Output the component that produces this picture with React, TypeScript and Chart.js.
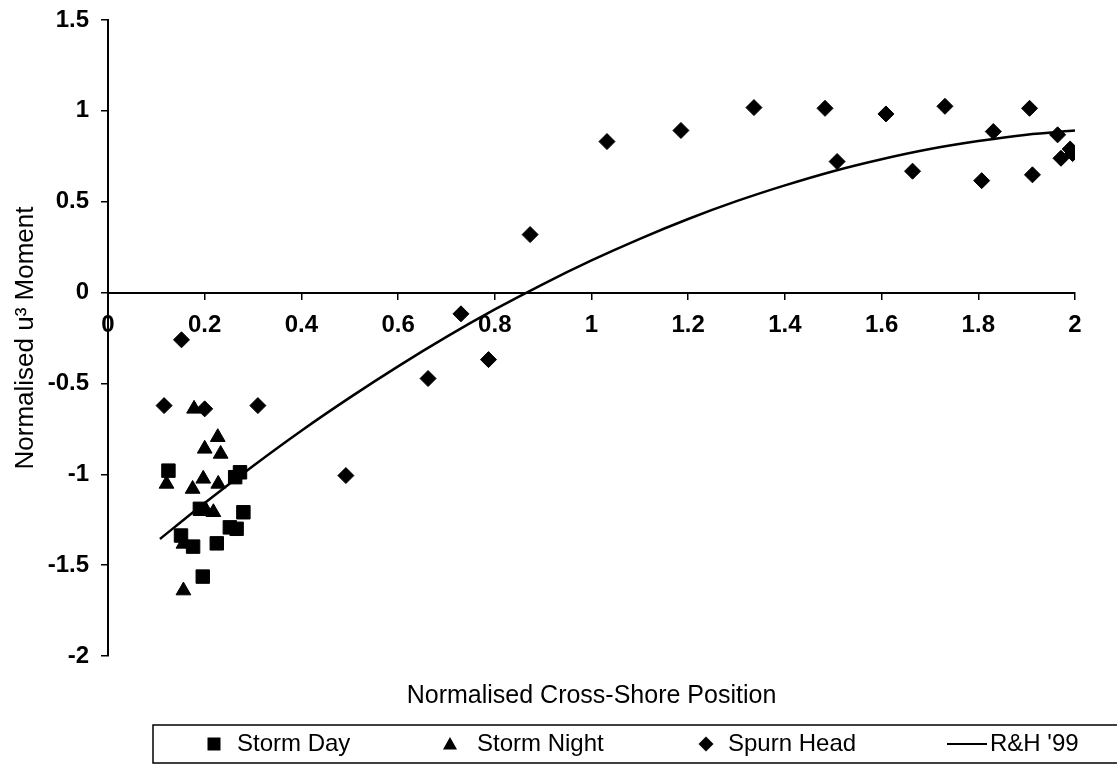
import React, { useEffect, useRef } from "react";
import { Chart, registerables } from "chart.js";

Chart.register(...registerables);

// ---- Data ----
const stormDayX = [0.125, 0.273, 0.263, 0.280, 0.190, 0.252, 0.266, 0.151, 0.176, 0.225, 0.196];
const stormDayY = [-0.98, -0.989, -1.016, -1.209, -1.19, -1.292, -1.30, -1.337, -1.398, -1.380, -1.563];

const stormNightX = [0.178, 0.227, 0.200, 0.233, 0.197, 0.121, 0.175, 0.228, 0.218, 0.203, 0.156, 0.156];
const stormNightY = [-0.640, -0.796, -0.860, -0.888, -1.025, -1.053, -1.081, -1.053, -1.209, -1.200, -1.383, -1.64];

const spurnHeadX = [0.152, 0.116, 0.200, 0.310, 0.492, 0.662, 0.730, 0.787, 0.873, 1.032, 1.185, 1.336, 1.483, 1.508, 1.609, 1.664, 1.731, 1.807, 1.831, 1.906, 1.912, 1.964, 1.971, 1.990, 1.995];
const spurnHeadY = [-0.26, -0.622, -0.640, -0.622, -1.007, -0.473, -0.117, -0.369, 0.319, 0.831, 0.892, 1.018, 1.014, 0.721, 0.983, 0.668, 1.025, 0.616, 0.886, 1.014, 0.648, 0.868, 0.739, 0.790, 0.765];

const rhX = [0.1075, 0.2, 0.3, 0.4, 0.5, 0.6, 0.7, 0.8, 0.9, 1.0, 1.1, 1.2, 1.3, 1.4, 1.5, 1.6, 1.7, 1.8, 1.9, 2.0];
const rhY = [-1.356, -1.158, -0.954, -0.760, -0.578, -0.406, -0.244, -0.093, 0.047, 0.177, 0.296, 0.405, 0.503, 0.590, 0.668, 0.734, 0.790, 0.834, 0.869, 0.892];

const seriesNames = ["Storm Day", "Storm Night", "Spurn Head", "R&H '99"];

const xTickLabels = ["0", "0.2", "0.4", "0.6", "0.8", "1", "1.2", "1.4", "1.6", "1.8", "2"];
const yTickLabels = ["-2", "-1.5", "-1", "-0.5", "0", "0.5", "1", "1.5"];

const xTitle = "Normalised Cross-Shore Position";
const yTitle = "Normalised u\u00B3 Moment";

const FONT = "'Liberation Sans', Arial, Helvetica, sans-serif";

const toPoints = (xs: number[], ys: number[]) => xs.map((x, i) => ({ x, y: ys[i] }));

const overlayPlugin = {
  id: "overlay",
  beforeDraw(chart: any) {
    const ctx = chart.ctx;
    ctx.save();
    ctx.fillStyle = "#ffffff";
    ctx.fillRect(0, 0, chart.width, chart.height);
    ctx.restore();
  },
  afterDraw(chart: any) {
    const ctx = chart.ctx;
    const ca = chart.chartArea;
    ctx.save();
    ctx.fillStyle = "#000";
    ctx.strokeStyle = "#000";
    // x-axis title
    ctx.font = `25px ${FONT}`;
    ctx.textAlign = "center";
    ctx.textBaseline = "alphabetic";
    ctx.fillText(xTitle, (ca.left + ca.right) / 2, 703);

    // legend box
    ctx.lineWidth = 1.5;
    ctx.strokeRect(153, 725, 1000, 38);
    const cy = 744;
    const markerX = [214, 450, 706];
    const textX = [237, 477, 728, 990];
    const ds = chart.data.datasets;
    // square
    ctx.fillRect(markerX[0] - 6.5, cy - 6.5, 13, 13);
    // triangle
    ctx.beginPath();
    ctx.moveTo(markerX[1], cy - 7);
    ctx.lineTo(markerX[1] + 7, cy + 5.5);
    ctx.lineTo(markerX[1] - 7, cy + 5.5);
    ctx.closePath();
    ctx.fill();
    // diamond
    ctx.beginPath();
    ctx.moveTo(markerX[2], cy - 7.5);
    ctx.lineTo(markerX[2] + 7.5, cy);
    ctx.lineTo(markerX[2], cy + 7.5);
    ctx.lineTo(markerX[2] - 7.5, cy);
    ctx.closePath();
    ctx.fill();
    // line
    ctx.lineWidth = 2;
    ctx.beginPath();
    ctx.moveTo(947, cy);
    ctx.lineTo(987, cy);
    ctx.stroke();

    ctx.font = `24px ${FONT}`;
    ctx.textAlign = "left";
    ctx.textBaseline = "middle";
    for (let i = 0; i < ds.length; i++) {
      ctx.fillText(ds[i].label, textX[i], cy);
    }
    ctx.restore();
  },
};

export default function App() {
  const canvasRef = useRef<HTMLCanvasElement | null>(null);

  useEffect(() => {
    const canvas = canvasRef.current;
    if (!canvas) return;
    const chart = new Chart(canvas, {
      type: "scatter",
      data: {
        datasets: [
          {
            label: seriesNames[0],
            data: toPoints(stormDayX, stormDayY),
            pointStyle: "rect",
            pointRadius: 9.5,
            backgroundColor: "#000",
            borderColor: "#000",
            borderWidth: 1,
            order: 2,
          },
          {
            label: seriesNames[1],
            data: toPoints(stormNightX, stormNightY),
            pointStyle: "triangle",
            pointRadius: 8.5,
            backgroundColor: "#000",
            borderColor: "#000",
            borderWidth: 1,
            order: 3,
          },
          {
            label: seriesNames[2],
            data: toPoints(spurnHeadX, spurnHeadY),
            pointStyle: "rectRot",
            pointRadius: 8,
            backgroundColor: "#000",
            borderColor: "#000",
            borderWidth: 1,
            order: 4,
          },
          {
            label: seriesNames[3],
            data: toPoints(rhX, rhY),
            showLine: true,
            pointRadius: 0,
            borderColor: "#000",
            borderWidth: 2.5,
            tension: 0.3,
            order: 1,
          },
        ],
      },
      options: {
        responsive: false,
        animation: false,
        devicePixelRatio: 1,
        layout: { padding: { left: 0, top: 20, right: 42, bottom: 109 } },
        plugins: {
          legend: { display: false },
          tooltip: { enabled: false },
        },
        scales: {
          x: {
            type: "linear",
            position: { y: 0 } as any,
            min: 0,
            max: 2,
            afterFit: (scale: any) => {
              scale.height = 0;
            },
            ticks: {
              stepSize: 0.2,
              maxRotation: 0,
              autoSkip: false,
              padding: 12,
              color: "#000",
              font: { family: FONT, size: 24, weight: "bold" },
              callback: (_v: any, i: number) => xTickLabels[i],
            },
            grid: {
              display: true,
              drawOnChartArea: false,
              drawTicks: true,
              tickLength: 6,
              color: "#000",
              lineWidth: 1.5,
            },
            border: { display: true, color: "#000", width: 2 },
          },
          y: {
            type: "linear",
            position: "left",
            min: -2,
            max: 1.5,
            afterFit: (scale: any) => {
              scale.width = 108;
              scale.paddingTop = 14;
              scale.paddingBottom = 14;
            },
            ticks: {
              stepSize: 0.5,
              padding: 12,
              color: "#000",
              font: { family: FONT, size: 24, weight: "bold" },
              callback: (_v: any, i: number) => yTickLabels[i],
            },
            grid: {
              display: true,
              drawOnChartArea: false,
              drawTicks: true,
              tickLength: 7,
              color: "#000",
              lineWidth: 1.5,
            },
            border: { display: true, color: "#000", width: 2 },
            title: {
              display: true,
              text: yTitle,
              color: "#000",
              padding: { top: 10, bottom: 0 },
              font: { family: FONT, size: 26, weight: "normal" },
            },
          },
        },
      },
      plugins: [overlayPlugin],
    });
    return () => chart.destroy();
  }, []);

  return (
    <div style={{ position: "absolute", left: 0, top: 0, width: 1117, height: 765, background: "#fff" }}>
      <canvas ref={canvasRef} width={1117} height={765} style={{ display: "block", width: 1117, height: 765 }} />
    </div>
  );
}
